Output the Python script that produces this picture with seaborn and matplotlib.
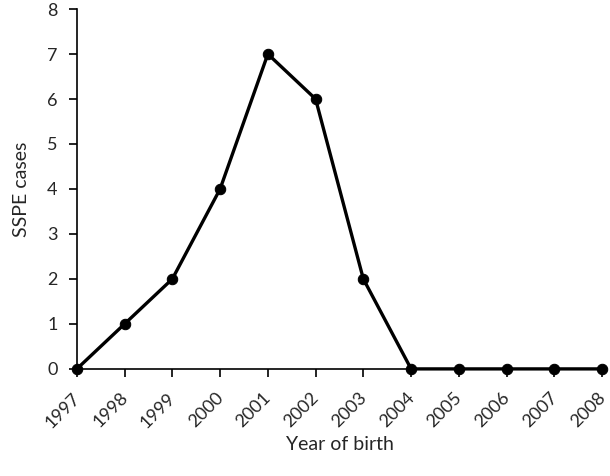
import matplotlib
matplotlib.use("Agg")
import matplotlib.pyplot as plt
import matplotlib.transforms as mtransforms
import seaborn as sns
import pandas as pd

years = [1997, 1998, 1999, 2000, 2001, 2002, 2003, 2004, 2005, 2006, 2007, 2008]
cases = [0, 1, 2, 4, 7, 6, 2, 0, 0, 0, 0, 0]
y_ticks = [0, 1, 2, 3, 4, 5, 6, 7, 8]

sns.set_theme(style="ticks")
plt.rcParams['font.family'] = ['Lato', 'DejaVu Sans']

df = pd.DataFrame({"Year of birth": years, "SSPE cases": cases})

fig = plt.figure(figsize=(6.1, 4.76), dpi=100)
ax = fig.add_axes([0.126, 0.225, 0.861, 0.756])
sns.lineplot(data=df, x="Year of birth", y="SSPE cases", ax=ax, color="black",
             linewidth=2.4, marker="o", markersize=7.5, markeredgecolor="black",
             clip_on=False)

ax.set_xlim(years[0], years[-1])
ax.set_ylim(0, 8)
ax.set_yticks(y_ticks)
ax.set_xticks(years)
ax.set_xticklabels([str(y) for y in years], rotation=45, ha="right", rotation_mode="anchor")
ax.tick_params(axis="both", labelsize=13, length=6, width=1.2, color="black")
ax.tick_params(axis="x", pad=9)
ax.tick_params(axis="y", pad=8)
offset = mtransforms.ScaledTranslation(-0.05, 0, fig.dpi_scale_trans)
for lbl in ax.get_xticklabels():
    lbl.set_transform(lbl.get_transform() + offset)
for s in ["top", "right"]:
    ax.spines[s].set_visible(False)
for s in ["left", "bottom"]:
    ax.spines[s].set_linewidth(1.2)
    ax.spines[s].set_color("black")
ax.set_xlabel("Year of birth", fontsize=14, labelpad=4)
ax.set_ylabel("SSPE cases", fontsize=14, labelpad=12)

fig.savefig("out.png", dpi=100)
